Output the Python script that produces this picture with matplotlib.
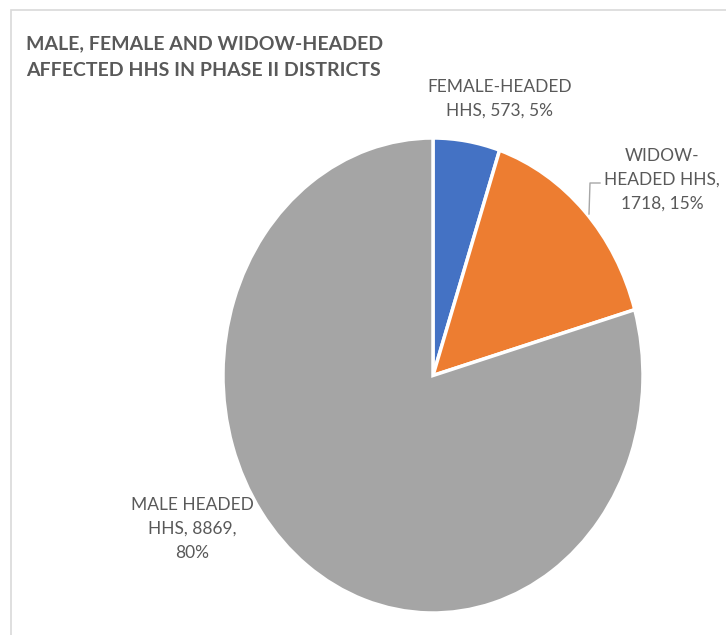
import matplotlib.pyplot as plt
from matplotlib.lines import Line2D
from matplotlib.patches import Rectangle

# data
groups = ['FEMALE-HEADED HHS', 'WIDOW-HEADED HHS', 'MALE HEADED HHS']
counts = [573, 1718, 8869]
percents = [5, 15, 80]
colors = ['#4472C4', '#ED7D31', '#A5A5A5']
title = 'MALE, FEMALE AND WIDOW-HEADED\nAFFECTED HHS IN PHASE II DISTRICTS'

W, H = 726, 635
fig = plt.figure(figsize=(W / 100, H / 100), dpi=100)

def fx(x, y):
	# pixel position (from top-left) -> figure fraction
	return x / W, 1 - y / H

# chart frame
fig.patches.append(Rectangle(fx(11, 700), 800 / W, 690 / H, transform=fig.transFigure,
	fill=False, edgecolor='#d9d9d9', linewidth=1.2))

# pie is slightly stretched vertically in the original
left, top = fx(223, 138)
right, bottom = fx(643, 613)
ax = fig.add_axes([left, bottom, right - left, top - bottom])
ax.pie(counts, colors=colors, startangle=90, counterclock=False,
	wedgeprops=dict(edgecolor='white', linewidth=2.5))
ax.set_aspect('auto')
ax.set_xlim(-1, 1)
ax.set_ylim(-1, 1)
ax.axis('off')

fig.text(*fx(26, 57), title, fontsize=14, fontweight='bold', color='#595959',
	family='Lato', va='center', ha='left', linespacing=1.75)

lab = dict(fontsize=12.5, color='#595959', family='Lato', ha='center', va='center',
	linespacing=1.6)

fig.text(*fx(500, 99), f'{groups[0].replace(" HHS", "")}\nHHS, {counts[0]}, {percents[0]}%', **lab)
fig.text(*fx(662, 180), f'WIDOW-\nHEADED HHS,\n{counts[1]}, {percents[1]}%', **lab)
fig.text(*fx(192, 529), f'MALE HEADED\nHHS, {counts[2]},\n{percents[2]}%', **lab)

# leader line for the widow label
xs, ys = zip(fx(600, 183), fx(590, 183), fx(589, 214))
fig.add_artist(Line2D(xs, ys, transform=fig.transFigure, color='#a6a6a6', linewidth=1))

fig.savefig('out.png', dpi=100)
